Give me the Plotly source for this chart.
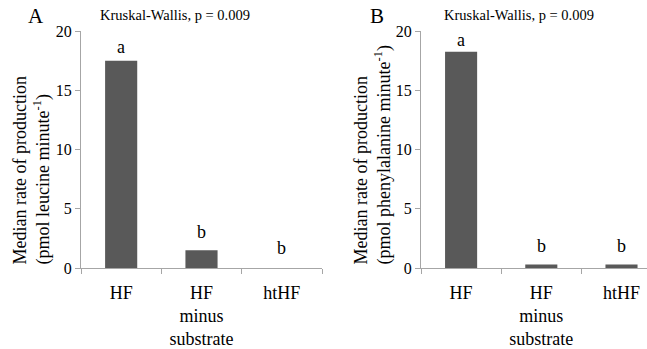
import plotly.graph_objects as go

categories = ["HF", "HF<br>minus<br>substrate", "htHF"]
leucine = [17.5, 1.5, 0.0]
phenylalanine = [18.25, 0.3, 0.3]
letters_a = ["a", "b", "b"]
letters_b = ["a", "b", "b"]
y_ticks = [0, 5, 10, 15, 20]

W, H = 647, 349
FONT = "Liberation Serif"
BAR = "#595959"
AXIS = "#a6a6a6"

def px_x(x):
    return x / W

def px_y(y):
    return (H - y) / H

fig = go.Figure()
fig.add_trace(go.Bar(x=categories, y=leucine, width=0.4, marker_color=BAR,
                     marker_line_width=0, xaxis="x", yaxis="y", showlegend=False))
fig.add_trace(go.Bar(x=categories, y=phenylalanine, width=0.4, marker_color=BAR,
                     marker_line_width=0, xaxis="x2", yaxis="y2", showlegend=False))

xcommon = dict(type="category", showline=True, linecolor=AXIS, linewidth=1,
               ticks="outside", tickson="boundaries", ticklen=5, tickcolor=AXIS,
               ticklabelstandoff=8,
               tickfont=dict(family=FONT, size=18, color="black"), showgrid=False,
               zeroline=False, automargin=False, fixedrange=True)
ycommon = dict(range=[0, 20], tickvals=y_ticks, showline=True, linecolor=AXIS,
               linewidth=1, ticks="outside", ticklen=5, tickcolor=AXIS,
               tickfont=dict(family=FONT, size=16, color="black"), showgrid=False,
               zeroline=False, automargin=False, domain=[px_y(268), px_y(31)])

fig.update_layout(
    template="none",
    width=W, height=H, margin=dict(l=0, r=0, t=0, b=0, pad=0),
    paper_bgcolor="white", plot_bgcolor="white", bargap=0.6,
    font=dict(family=FONT, color="black"),
    xaxis=dict(**xcommon, domain=[px_x(81), px_x(322)], range=[-0.5, 2.5], anchor="y"),
    yaxis=dict(**ycommon, anchor="x"),
    xaxis2=dict(**xcommon, domain=[px_x(421), 1.0], range=[-0.5, 2.318], anchor="y2"),
    yaxis2=dict(**ycommon, anchor="x2"),
)

ann = []
shift_a = [14, 18, 20]
shift_b = [12, 18, 18]
for i, c in enumerate(categories):
    ann.append(dict(x=c, y=leucine[i], xref="x", yref="y", text=letters_a[i],
                    showarrow=False, yshift=shift_a[i], yanchor="middle",
                    font=dict(family=FONT, size=18, color="black")))
    ann.append(dict(x=c, y=phenylalanine[i], xref="x2", yref="y2", text=letters_b[i],
                    showarrow=False, yshift=shift_b[i], yanchor="middle",
                    font=dict(family=FONT, size=18, color="black")))

ann.append(dict(x=px_x(31.5), y=px_y(267), xref="paper", yref="paper",
                text="Median rate of production<br>(pmol leucine minute<sup>-1</sup>)",
                textangle=-90, align="left", xanchor="center", yanchor="bottom",
                showarrow=False, font=dict(family=FONT, size=18, color="black")))
ann.append(dict(x=px_x(372), y=px_y(267), xref="paper", yref="paper",
                text="Median rate of production<br>(pmol phenylalanine minute<sup>-1</sup>)",
                textangle=-90, align="left", xanchor="center", yanchor="bottom",
                showarrow=False, font=dict(family=FONT, size=18, color="black")))

for xc, t in [(175, "Kruskal-Wallis, p = 0.009"), (519, "Kruskal-Wallis, p = 0.009")]:
    ann.append(dict(x=px_x(xc), y=px_y(15), xref="paper", yref="paper", text=t,
                    showarrow=False, xanchor="center", yanchor="middle",
                    font=dict(family=FONT, size=14.5, color="black")))
for xc, t in [(36, "A"), (377, "B")]:
    ann.append(dict(x=px_x(xc), y=px_y(16), xref="paper", yref="paper", text=t,
                    showarrow=False, xanchor="center", yanchor="middle",
                    font=dict(family=FONT, size=21, color="black")))

fig.update_layout(annotations=ann)
fig.write_html("out.html", config={"displayModeBar": False},
               post_script="document.body.style.margin='0';")
